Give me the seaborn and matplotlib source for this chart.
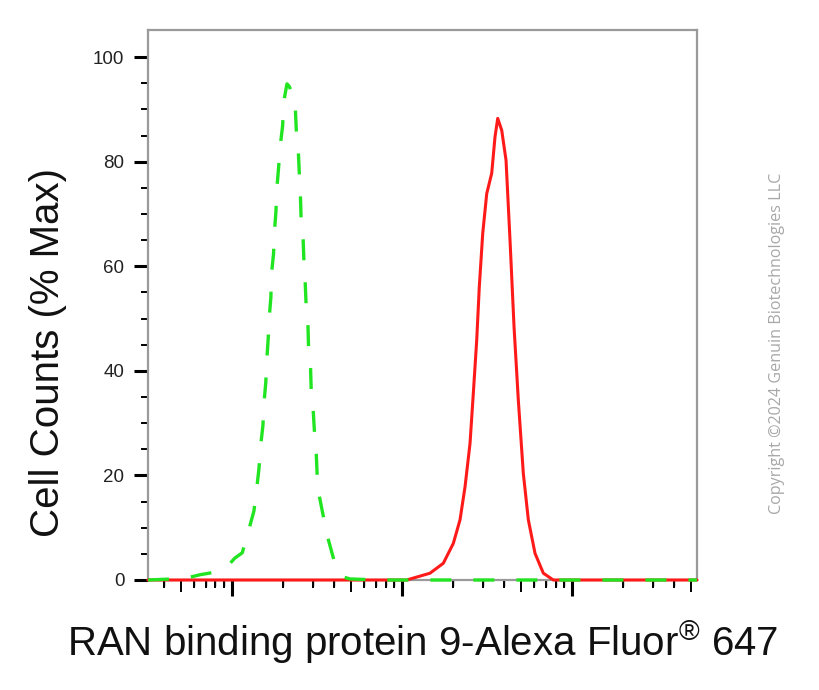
import numpy as np
import pandas as pd
import matplotlib
matplotlib.use("Agg")
import matplotlib.pyplot as plt
import seaborn as sns
from matplotlib.ticker import FixedLocator, NullFormatter

# ---- data (fluorescence intensity, % of max) ----
green_x = [321, 529, 648, 794, 958, 1041, 1150, 1259, 1347, 1398, 1441, 1477, 1522,
           1543, 1581, 1603, 1633, 1655, 1694, 1708, 1757, 1778, 1815, 1839, 1880,
           1923, 1987, 2015, 2107, 2164, 2224, 2363, 2396, 2461, 2495, 2529, 2553,
           2624, 2652, 2696, 2733, 2800, 2823, 2900, 2928, 3008, 3062, 3133, 3176,
           3263, 3384, 3477, 3670, 3981, 4204, 4497, 4944, 7424, 543000]
green_y = [0, 0.3, 1.0, 1.5, 2.9, 4.2, 5.2, 9.7, 13.2, 17.4, 21.2, 25.8, 29.6,
           33.8, 37.7, 42.0, 46.0, 50.0, 54.0, 58.5, 62.4, 66.6, 70.5, 75.0, 78.8,
           83.0, 86.9, 91.4, 94.9, 94.5, 93.7, 89.8, 85.3, 81.5, 77.2, 73.4, 68.8,
           65.0, 60.8, 57.0, 52.4, 48.6, 44.4, 40.5, 36.0, 32.2, 28.0, 24.1, 19.6,
           16.1, 13.5, 11.6, 8.0, 3.8, 2.0, 0.6, 0.2, 0, 0]

red_x = [321, 10660, 14610, 17500, 20040, 21940, 23480, 25120, 26270, 27510, 28490,
         29840, 31500, 33700, 35250, 36560, 38600, 40910, 43180, 45600, 48320,
         51700, 55340, 60580, 67800, 77620, 543000]
red_y = [0, 0, 1.3, 3.2, 7.0, 11.5, 17.8, 26.1, 35.7, 45.9, 56.1,
         66.3, 73.9, 77.8, 84.8, 88.3, 86.0, 80.3, 65.0, 48.4, 34.4,
         20.4, 11.5, 5.1, 1.3, 0, 0]

y_ticks = [0, 20, 40, 60, 80, 100]
x_major = [1e3, 1e4, 1e5]

xlabel = r"RAN binding protein 9-Alexa Fluor$^{\circledR}$ 647"
ylabel = "Cell Counts (% Max)"
copyright_text = "Copyright \u00a92024 Genuin Biotechnologies LLC"

# ---- style ----
sns.set_theme(style="white")
plt.rcParams["font.family"] = ["Liberation Sans", "DejaVu Sans"]
plt.rcParams["mathtext.fontset"] = "custom"
plt.rcParams["mathtext.rm"] = "Liberation Sans"
plt.rcParams["mathtext.it"] = "Liberation Sans"
plt.rcParams["mathtext.bf"] = "Liberation Sans"

fig = plt.figure(figsize=(8.19, 6.90), dpi=100)
ax = fig.add_axes([148 / 819, 1 - 580 / 690, (697 - 148) / 819, (580 - 30) / 690])

df_g = pd.DataFrame({"x": green_x, "y": green_y})
df_r = pd.DataFrame({"x": red_x, "y": red_y})

sns.lineplot(data=df_r, x="x", y="y", ax=ax, color="#ff1a1a", linewidth=2.2,
             estimator=None, sort=False, clip_on=False, zorder=3)
sns.lineplot(data=df_g, x="x", y="y", ax=ax, color="#22e522", linewidth=2.4,
             estimator=None, sort=False, clip_on=False, zorder=4,
             linestyle=(0, (6.3, 6.6)))

ax.set_xscale("log")
ax.set_xlim(321, 543000)
ax.set_ylim(0, 105.2)

# spines
for s in ax.spines.values():
    s.set_color("#9a9a9a")
    s.set_linewidth(1.6)
    s.set_visible(True)

# y ticks
ax.set_yticks(y_ticks)
ax.set_yticklabels([str(v) for v in y_ticks], fontsize=13.5, color="#222222")
ax.yaxis.set_minor_locator(FixedLocator([v for v in range(5, 105, 5) if v % 20 != 0]))
ax.tick_params(axis="y", which="major", direction="out", length=10, width=2.2,
               color="black", pad=7, left=True)
ax.tick_params(axis="y", which="minor", direction="out", length=5, width=1.4,
               color="black", left=True)

# x ticks (log, unlabeled)
ax.xaxis.set_major_locator(FixedLocator(x_major))
ax.xaxis.set_major_formatter(NullFormatter())
minor_pos = []
for dec in [1e2, 1e3, 1e4, 1e5]:
    for m in [2, 3, 4, 6, 7, 8, 9]:
        v = m * dec
        if 321 < v < 543000:
            minor_pos.append(v)
ax.xaxis.set_minor_locator(FixedLocator(minor_pos))
ax.xaxis.set_minor_formatter(NullFormatter())
ax.tick_params(axis="x", which="major", direction="out", length=11.5, width=2.2,
               color="black", bottom=True)
ax.tick_params(axis="x", which="minor", direction="out", length=6, width=1.4,
               color="black", bottom=True)
# medium ticks at the 5s
sec = ax.secondary_xaxis("bottom")
sec.set_xticks([500, 5000, 50000, 500000])
sec.set_xticklabels([])
sec.tick_params(axis="x", direction="out", length=8.5, width=1.4, color="black")
sec.spines["bottom"].set_visible(False)

ax.set_xlabel(xlabel, fontsize=29, color="#111111")
ax.set_ylabel(ylabel, fontsize=29, color="#111111")
ax.yaxis.set_label_coords(-0.148, 0.413)
ax.xaxis.set_label_coords(0.5, -0.07)

fig.text(777 / 819, 1 - 343 / 690, copyright_text, rotation=90, ha="center",
         va="center", fontsize=11.6, color="#a8a8a8",
         family=["Open Sans", "DejaVu Sans"])

fig.savefig("out.png", dpi=100, facecolor="white")
